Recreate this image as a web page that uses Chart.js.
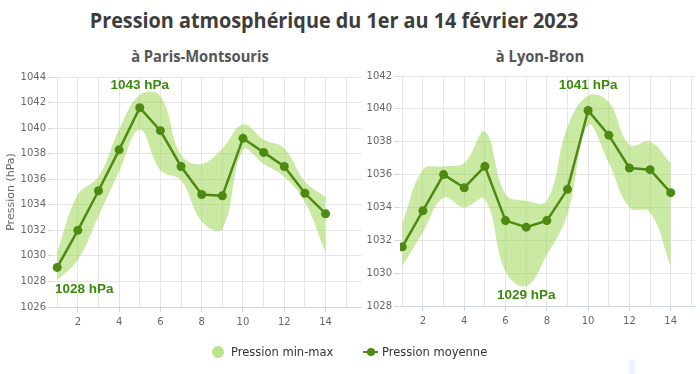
<!DOCTYPE html>
<html>
<head>
<meta charset="utf-8">
<script src="https://cdn.jsdelivr.net/npm/chart.js@4/dist/chart.umd.min.js"></script>
<style>
  html, body { margin: 0; padding: 0; background: #fff; }
  #wrap { position: relative; width: 700px; height: 374px; overflow: hidden; background: #fff; }
  .ttl { position: absolute; white-space: nowrap; font-family: "Open Sans", sans-serif; font-weight: 700; transform-origin: center; }
  #title { left: 334px; top: 4px; font-size: 22px; color: #3d3d3d; transform: translateX(-50%) scaleX(0.9); }
  .sub { top: 45px; font-size: 16px; color: #555; transform: translateX(-50%) scaleX(0.92); }
  canvas { position: absolute; top: 0; }
  #legend { position: absolute; top: 343px; left: 0; width: 700px; height: 20px; font-family: "DejaVu Sans", sans-serif; font-size: 11.5px; color: #333; }
  .li { position: absolute; top: 0; height: 18px; line-height: 18px; white-space: nowrap; }
  .dot { position: absolute; width: 12px; height: 12px; border-radius: 50%; background: rgba(150,214,72,0.65); top: 3px; }
  .ln { position: absolute; width: 15px; height: 2px; background: #4e8a12; top: 8px; }
  .ln::after { content: ""; position: absolute; left: 3.5px; top: -3px; width: 8px; height: 8px; border-radius: 50%; background: #4e8a12; }
  #blip { position: absolute; left: 629px; top: 360px; width: 6px; height: 14px; background: #eef3fd; }
</style>
</head>
<body>
<div id="wrap">
  <div id="title" class="ttl">Pression atmosphérique du 1er au 14 février 2023</div>
  <div class="ttl sub" style="left:200px">à Paris-Montsouris</div>
  <div class="ttl sub" style="left:540px">à Lyon-Bron</div>
  <canvas id="c1" width="366" height="374" style="left:0;width:366px;height:374px"></canvas>
  <canvas id="c2" width="334" height="374" style="left:366px;width:334px;height:374px"></canvas>
  <div id="legend">
    <div class="li" style="left:212px"><span class="dot" style="left:0"></span><span style="position:absolute;left:19px">Pression min-max</span></div>
    <div class="li" style="left:363px"><span class="ln" style="left:0"></span><span style="position:absolute;left:19px">Pression moyenne</span></div>
  </div>
  <div id="blip"></div>
</div>
<script>
// ---- Data ----
const days = [1, 2, 3, 4, 5, 6, 7, 8, 9, 10, 11, 12, 13, 14];

const parisMean = [1029.1, 1032.0, 1035.1, 1038.3, 1041.6, 1039.8, 1037.0, 1034.8, 1034.7, 1039.2, 1038.1, 1037.0, 1034.9, 1033.3];
const parisMin  = [1028.1, 1029.7, 1033.1, 1036.6, 1039.9, 1036.7, 1035.9, 1032.7, 1032.1, 1038.3, 1037.2, 1036.2, 1034.2, 1030.2];
const parisMax  = [1030.3, 1034.8, 1036.2, 1039.9, 1042.6, 1042.5, 1037.9, 1037.2, 1038.4, 1040.3, 1039.1, 1038.4, 1035.8, 1034.6];

const lyonMean = [1031.6, 1033.8, 1036.0, 1035.2, 1036.5, 1033.2, 1032.8, 1033.2, 1035.1, 1039.9, 1038.4, 1036.4, 1036.3, 1034.9];
const lyonMin  = [1030.4, 1032.5, 1034.6, 1034.0, 1034.5, 1030.1, 1029.2, 1031.1, 1033.6, 1039.0, 1036.7, 1034.0, 1033.7, 1030.4];
const lyonMax  = [1033.0, 1036.3, 1036.5, 1036.7, 1038.6, 1034.8, 1034.4, 1034.4, 1038.9, 1040.8, 1040.4, 1037.8, 1038.0, 1036.7];

const parisYRange = [1026, 1044];
const lyonYRange  = [1028, 1042];
const xLabels = [2, 4, 6, 8, 10, 12, 14];   // labelled x ticks
const yStep = 2;
const seriesNames = ['Pression min-max', 'Pression moyenne'];
const yTitle = 'Pression (hPa)';

// ---- Styles ----
const bandColor = 'rgba(150,214,72,0.5)';
const lineColor = '#4e8a12';
const labelColor = '#3a8a0a';
const gridColor = '#e6e6e6';
const axisColor = '#ccd6eb';
const tickFont = { family: 'DejaVu Sans', size: 10 };

const extremesPlugin = {
  id: 'extremes',
  afterDatasetsDraw(chart) {
    const up = chart.data.datasets[0].data, lo = chart.data.datasets[1].data;
    let iMax = 0, iMin = 0;
    up.forEach((p, i) => { if (p.y > up[iMax].y) iMax = i; });
    lo.forEach((p, i) => { if (p.y < lo[iMin].y) iMin = i; });
    const xs = chart.scales.x, ys = chart.scales.y, area = chart.chartArea;
    const ctx = chart.ctx;
    ctx.save();
    ctx.font = 'bold 13.5px "Liberation Sans", Arial, sans-serif';
    ctx.fillStyle = labelColor;
    ctx.textAlign = 'center';
    ctx.textBaseline = 'middle';
    const put = (p, dy) => {
      const t = Math.round(p.y) + ' hPa';
      const w = ctx.measureText(t).width;
      let x = xs.getPixelForValue(p.x);
      x = Math.max(x, area.left + w / 2 + 3);
      x = Math.min(x, area.right - w / 2 - 3);
      ctx.fillText(t, x, ys.getPixelForValue(p.y) + dy);
    };
    put(up[iMax], -10);
    put(lo[iMin], 9);
    ctx.restore();
  }
};

function makeChart(id, mean, mn, mx, yr, xr, opts) {
  const pts = arr => days.map((d, i) => ({ x: d, y: arr[i] }));
  return new Chart(document.getElementById(id), {
    type: 'line',
    data: {
      datasets: [
        { label: seriesNames[0], data: pts(mx), borderWidth: 0, borderColor: 'transparent', backgroundColor: bandColor, pointRadius: 0, fill: '+1', tension: 0.4, order: 2 },
        { label: seriesNames[0] + ' low', data: pts(mn), borderWidth: 0, borderColor: 'transparent', backgroundColor: bandColor, pointRadius: 0, fill: false, tension: 0.4, order: 2 },
        { label: seriesNames[1], data: pts(mean), borderWidth: 2.5, borderColor: lineColor, backgroundColor: lineColor, pointRadius: 4.5, pointBackgroundColor: lineColor, pointBorderColor: lineColor, pointBorderWidth: 0, tension: 0, fill: false, order: 1 }
      ]
    },
    options: {
      responsive: false,
      animation: false,
      devicePixelRatio: 1,
      layout: { padding: { top: opts.top, bottom: opts.bottom, left: 0, right: 0 } },
      plugins: { legend: { display: false }, tooltip: { enabled: false } },
      scales: {
        x: {
          type: 'linear', min: xr[0], max: xr[1],
          afterFit: s => { s.height = 30; },
          ticks: {
            stepSize: 1, includeBounds: false, autoSkip: false, maxRotation: 0,
            font: tickFont, color: '#666', padding: 4,
            callback: v => xLabels.includes(v) ? String(v) : ''
          },
          grid: { color: gridColor, lineWidth: 1, tickLength: 5, tickColor: c => (c.tick && xLabels.includes(c.tick.value)) ? axisColor : 'rgba(0,0,0,0)' },
          border: { display: true, color: axisColor, width: 1 }
        },
        y: {
          min: yr[0], max: yr[1],
          afterFit: s => { s.width = opts.yWidth; },
          ticks: { stepSize: yStep, font: tickFont, color: '#666', padding: 2, callback: v => String(v) },
          grid: { color: gridColor, lineWidth: 1, tickLength: opts.tickLen, tickColor: axisColor },
          border: { display: false },
          title: { display: opts.showTitle, text: yTitle, color: '#666', font: { family: 'DejaVu Sans', size: 11 }, padding: { top: 5, bottom: 0 } }
        }
      }
    },
    plugins: [extremesPlugin]
  });
}

makeChart('c1', parisMean, parisMin, parisMax, parisYRange, [0.75, 15.74], { top: 77, bottom: 37, yWidth: 52, tickLen: 4, showTitle: true });
makeChart('c2', lyonMean, lyonMin, lyonMax, lyonYRange, [0.89, 15.2], { top: 76, bottom: 38, yWidth: 34, tickLen: 6, showTitle: false });
</script>
</body>
</html>
